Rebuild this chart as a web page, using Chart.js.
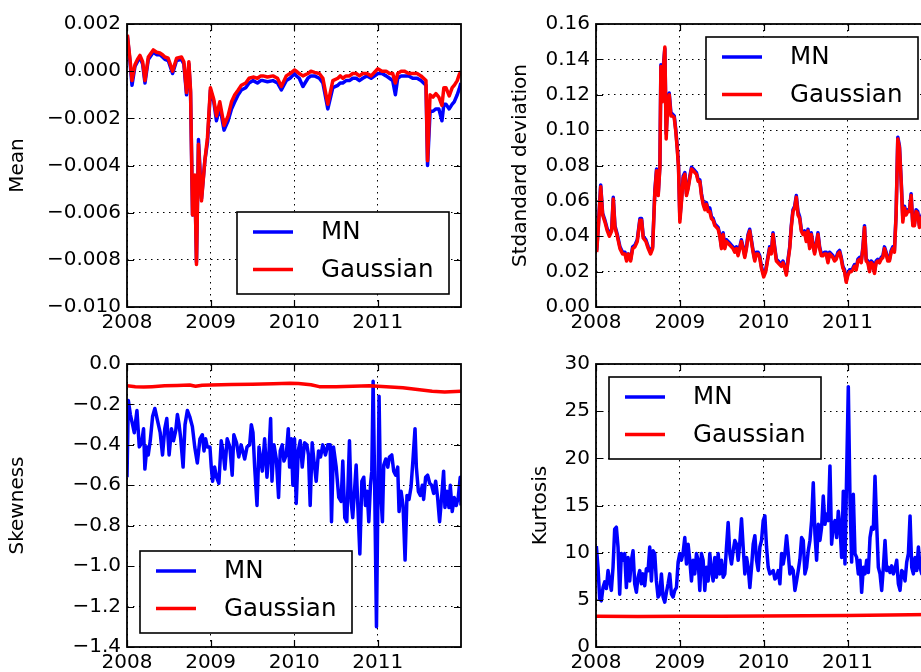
<!DOCTYPE html>
<html lang="en">
<head>
  <meta charset="UTF-8" />
  <title>MN vs Gaussian - moments</title>
  <script src="https://cdn.jsdelivr.net/npm/chart.js"></script>
  <style>
    html, body {
      margin: 0;
      padding: 0;
      width: 921px;
      height: 672px;
      overflow: hidden;
      background: #fff;
    }
    body { position: relative; }
    canvas { position: absolute; }
  </style>
</head>
<body>
  <canvas id="meanChart" width="470" height="337" style="left:0;top:0"></canvas>
  <canvas id="stdChart" width="470" height="337" style="left:470px;top:0"></canvas>
  <canvas id="skewChart" width="470" height="340" style="left:0;top:337px"></canvas>
  <canvas id="kurtChart" width="470" height="340" style="left:470px;top:337px"></canvas>

  <script>
    // ---- data (decimal years) ----
    const yearTicks = [2008, 2009, 2010, 2011];

    const meanTimes = [2008.004, 2008.036, 2008.060, 2008.095, 2008.125, 2008.155, 2008.187, 2008.215, 2008.255, 2008.314,
      2008.354, 2008.394, 2008.425, 2008.453, 2008.493, 2008.545, 2008.593, 2008.652, 2008.680, 2008.712,
      2008.740, 2008.760, 2008.784, 2008.811, 2008.831, 2008.855, 2008.891, 2008.931, 2008.963, 2008.998,
      2009.038, 2009.070, 2009.110, 2009.161, 2009.209, 2009.250, 2009.289, 2009.330, 2009.368, 2009.420,
      2009.460, 2009.508, 2009.560, 2009.600, 2009.627, 2009.680, 2009.746, 2009.800, 2009.846, 2009.905,
      2009.950, 2010.005, 2010.025, 2010.060, 2010.104, 2010.164, 2010.200, 2010.243, 2010.300, 2010.343,
      2010.402, 2010.462, 2010.522, 2010.550, 2010.581, 2010.620, 2010.661, 2010.700, 2010.741, 2010.780,
      2010.820, 2010.870, 2010.920, 2011.000, 2011.050, 2011.099, 2011.140, 2011.178, 2011.210, 2011.238,
      2011.280, 2011.317, 2011.370, 2011.417, 2011.470, 2011.516, 2011.576, 2011.595, 2011.625, 2011.660,
      2011.695, 2011.730, 2011.767, 2011.790, 2011.815, 2011.854, 2011.890, 2011.914, 2011.950, 2011.974, 2011.994];
    const meanMN = [0.0015, 0.0004, -0.0006, 0.0002, 0.0004, 0.0006, 0.0003, -0.0005, 0.0005, 0.0008,
      0.0007, 0.0007, 0.0006, 0.0005, 0.00045, -0.0001, 0.00045, 0.0005, 0.0003, -0.001,
      0.0003, -0.0009, -0.0061, -0.0045, -0.0081, -0.0029, -0.0054, -0.0038, -0.003, -0.0008,
      -0.0013, -0.0021, -0.0015, -0.0025, -0.0021, -0.0016, -0.0013, -0.001, -0.0008, -0.0007,
      -0.0005, -0.0004, -0.0005, -0.0004, -0.0004, -0.00045, -0.0004, -0.0005, -0.0008, -0.0004,
      -0.0003, -0.0001, -0.0002, -0.0003, -0.00065, -0.0003, -0.0002, -0.0002, -0.0003, -0.0005,
      -0.0016, -0.0007, -0.0006, -0.0005, -0.0005, -0.0004, -0.0004, -0.0003, -0.0003, -0.0004,
      -0.0003, -0.0002, -0.0003, -0.0001, -0.0001, -0.0002, -0.0003, -0.0004, -0.001, -0.0003,
      -0.0002, -0.0002, -0.0002, -0.0003, -0.0003, -0.0004, -0.0006, -0.0040, -0.0017, -0.0017,
      -0.0016, -0.0016, -0.0021, -0.0014, -0.0014, -0.0016, -0.0014, -0.0013, -0.001, -0.00075, -0.0005];
    const meanGauss = [0.00155, 0.0005, -0.0004, 0.00027, 0.0005, 0.00067, 0.0004, -0.0004, 0.0006, 0.0009,
      0.0008, 0.00077, 0.0007, 0.0006, 0.00055, 0.0, 0.00055, 0.0006, 0.0004, -0.0009,
      0.0004, -0.0008, -0.0061, -0.0044, -0.0082, -0.0031, -0.0055, -0.0038, -0.0028, -0.0007,
      -0.0012, -0.0019, -0.0013, -0.0023, -0.0019, -0.0013, -0.001, -0.0008, -0.0006, -0.0005,
      -0.0003, -0.00025, -0.0003, -0.0002, -0.0002, -0.00025, -0.0002, -0.0003, -0.00065, -0.0002,
      -0.0001, 0.00005, 0.0, -0.0001, -0.0002, -0.0001, 0.0, -0.00005, -0.0001, -0.0003,
      -0.0014, -0.0004, -0.0003, -0.0002, -0.0003, -0.0002, -0.0002, -0.0001, -0.0001, -0.0002,
      -0.0001, -0.0001, -0.0002, 0.0001, 0.0, 0.0, -0.0001, -0.0001, -0.0005, -0.0001,
      0.0, 0.0, -0.0001, -0.0001, -0.0001, -0.0002, -0.0004, -0.0038, -0.0010, -0.0011,
      -0.00095, -0.0011, -0.00145, -0.0007, -0.0007, -0.00105, -0.0007, -0.0006, -0.0004, -0.00014, 0.0];
    const meanTicks = [-0.010, -0.008, -0.006, -0.004, -0.002, 0.000, 0.002];

    const stdTimes = [2008.008, 2008.028, 2008.056, 2008.079, 2008.107, 2008.135, 2008.159, 2008.187, 2008.206, 2008.226,
      2008.254, 2008.286, 2008.317, 2008.345, 2008.365, 2008.385, 2008.413, 2008.437, 2008.464, 2008.492,
      2008.524, 2008.544, 2008.563, 2008.595, 2008.623, 2008.651, 2008.675, 2008.702, 2008.722, 2008.742,
      2008.762, 2008.774, 2008.790, 2008.806, 2008.821, 2008.837, 2008.853, 2008.873, 2008.893, 2008.913,
      2008.933, 2008.952, 2008.968, 2008.984, 2009.000, 2009.020, 2009.040, 2009.060, 2009.079, 2009.099,
      2009.119, 2009.139, 2009.159, 2009.179, 2009.198, 2009.218, 2009.238, 2009.258, 2009.278, 2009.298,
      2009.317, 2009.337, 2009.357, 2009.377, 2009.397, 2009.417, 2009.437, 2009.456, 2009.476, 2009.496,
      2009.516, 2009.536, 2009.556, 2009.575, 2009.595, 2009.615, 2009.635, 2009.655, 2009.675, 2009.694,
      2009.714, 2009.734, 2009.754, 2009.774, 2009.794, 2009.813, 2009.833, 2009.853, 2009.873, 2009.893,
      2009.913, 2009.933, 2009.952, 2009.972, 2010.000, 2010.024, 2010.052, 2010.071, 2010.091, 2010.111,
      2010.131, 2010.151, 2010.171, 2010.190, 2010.210, 2010.230, 2010.250, 2010.270, 2010.290, 2010.310,
      2010.329, 2010.349, 2010.369, 2010.389, 2010.409, 2010.429, 2010.448, 2010.468, 2010.488, 2010.508,
      2010.528, 2010.548, 2010.567, 2010.587, 2010.607, 2010.627, 2010.647, 2010.667, 2010.687, 2010.706,
      2010.726, 2010.746, 2010.766, 2010.786, 2010.806, 2010.825, 2010.845, 2010.865, 2010.885, 2010.905,
      2010.925, 2010.944, 2010.964, 2010.984, 2011.004, 2011.024, 2011.044, 2011.063, 2011.083, 2011.103,
      2011.123, 2011.143, 2011.163, 2011.183, 2011.202, 2011.222, 2011.242, 2011.262, 2011.282, 2011.301,
      2011.321, 2011.341, 2011.361, 2011.381, 2011.401, 2011.421, 2011.440, 2011.460, 2011.480, 2011.500,
      2011.520, 2011.540, 2011.559, 2011.579, 2011.599, 2011.619, 2011.639, 2011.659, 2011.679, 2011.698,
      2011.718, 2011.738, 2011.758, 2011.778, 2011.798, 2011.817, 2011.837, 2011.857, 2011.880, 2011.920,
      2011.960, 2011.990];
    const stdMN = [0.032, 0.046, 0.069, 0.053, 0.049, 0.044, 0.041, 0.044, 0.062, 0.046,
      0.041, 0.034, 0.031, 0.031, 0.027, 0.030, 0.027, 0.034, 0.035, 0.038,
      0.050, 0.050, 0.040, 0.038, 0.034, 0.031, 0.034, 0.066, 0.078, 0.064,
      0.080, 0.137, 0.118, 0.138, 0.146, 0.098, 0.114, 0.121, 0.110, 0.109,
      0.108, 0.100, 0.091, 0.080, 0.050, 0.061, 0.074, 0.076, 0.064, 0.068,
      0.074, 0.079, 0.078, 0.077, 0.076, 0.072, 0.072, 0.064, 0.059, 0.056,
      0.059, 0.055, 0.056, 0.051, 0.050, 0.047, 0.046, 0.045, 0.041, 0.034,
      0.042, 0.034, 0.038, 0.037, 0.036, 0.035, 0.034, 0.032, 0.034, 0.030,
      0.034, 0.038, 0.034, 0.029, 0.034, 0.041, 0.044, 0.038, 0.032, 0.027,
      0.031, 0.031, 0.029, 0.023, 0.018, 0.021, 0.029, 0.034, 0.031, 0.042,
      0.034, 0.027, 0.026, 0.025, 0.024, 0.026, 0.023, 0.019, 0.027, 0.034,
      0.046, 0.055, 0.057, 0.063, 0.054, 0.051, 0.044, 0.042, 0.043, 0.038,
      0.044, 0.034, 0.042, 0.036, 0.031, 0.036, 0.042, 0.034, 0.030, 0.030,
      0.031, 0.031, 0.026, 0.031, 0.030, 0.029, 0.027, 0.028, 0.031, 0.032,
      0.028, 0.023, 0.021, 0.015, 0.019, 0.021, 0.021, 0.022, 0.024, 0.022,
      0.027, 0.028, 0.026, 0.034, 0.046, 0.027, 0.026, 0.021, 0.026, 0.025,
      0.020, 0.026, 0.027, 0.026, 0.028, 0.029, 0.034, 0.031, 0.027, 0.027,
      0.032, 0.034, 0.032, 0.053, 0.096, 0.091, 0.072, 0.050, 0.057, 0.053,
      0.055, 0.055, 0.064, 0.047, 0.047, 0.055, 0.054, 0.046, 0.051, 0.056,
      0.049, 0.053];
    const stdGauss = [0.031, 0.045, 0.068, 0.052, 0.048, 0.043, 0.040, 0.043, 0.061, 0.045,
      0.040, 0.033, 0.030, 0.030, 0.026, 0.030, 0.026, 0.033, 0.034, 0.037,
      0.049, 0.049, 0.039, 0.037, 0.033, 0.030, 0.033, 0.065, 0.077, 0.063,
      0.079, 0.136, 0.116, 0.136, 0.147, 0.095, 0.112, 0.120, 0.108, 0.108,
      0.107, 0.099, 0.090, 0.079, 0.048, 0.060, 0.073, 0.075, 0.063, 0.067,
      0.073, 0.078, 0.077, 0.076, 0.075, 0.071, 0.071, 0.063, 0.058, 0.055,
      0.058, 0.054, 0.054, 0.050, 0.049, 0.046, 0.045, 0.044, 0.040, 0.033,
      0.041, 0.033, 0.037, 0.036, 0.035, 0.034, 0.033, 0.031, 0.033, 0.029,
      0.033, 0.037, 0.033, 0.028, 0.033, 0.040, 0.043, 0.037, 0.031, 0.026,
      0.030, 0.030, 0.028, 0.022, 0.017, 0.020, 0.028, 0.033, 0.030, 0.041,
      0.033, 0.026, 0.025, 0.024, 0.023, 0.025, 0.022, 0.018, 0.026, 0.033,
      0.045, 0.054, 0.056, 0.062, 0.052, 0.050, 0.043, 0.041, 0.042, 0.037,
      0.043, 0.033, 0.041, 0.035, 0.030, 0.035, 0.041, 0.033, 0.029, 0.029,
      0.030, 0.030, 0.025, 0.030, 0.029, 0.028, 0.026, 0.027, 0.030, 0.031,
      0.027, 0.022, 0.020, 0.014, 0.018, 0.020, 0.020, 0.021, 0.023, 0.021,
      0.026, 0.027, 0.025, 0.033, 0.045, 0.026, 0.025, 0.020, 0.025, 0.024,
      0.019, 0.025, 0.026, 0.025, 0.027, 0.028, 0.033, 0.030, 0.026, 0.026,
      0.031, 0.033, 0.031, 0.052, 0.095, 0.090, 0.071, 0.048, 0.056, 0.052,
      0.054, 0.054, 0.063, 0.046, 0.046, 0.054, 0.053, 0.045, 0.050, 0.055,
      0.048, 0.052];
    const stdTicks = [0.00, 0.02, 0.04, 0.06, 0.08, 0.10, 0.12, 0.14, 0.16];

    const skewTimes = [2008.000, 2008.016, 2008.040, 2008.067, 2008.087, 2008.119, 2008.147, 2008.175, 2008.198, 2008.214,
      2008.238, 2008.254, 2008.278, 2008.306, 2008.333, 2008.365, 2008.397, 2008.425, 2008.452, 2008.476,
      2008.504, 2008.532, 2008.556, 2008.583, 2008.603, 2008.623, 2008.643, 2008.671, 2008.694, 2008.722,
      2008.750, 2008.782, 2008.810, 2008.841, 2008.873, 2008.901, 2008.921, 2008.940, 2008.960, 2008.992,
      2009.008, 2009.024, 2009.048, 2009.071, 2009.099, 2009.127, 2009.151, 2009.171, 2009.198, 2009.230,
      2009.258, 2009.278, 2009.310, 2009.337, 2009.365, 2009.408, 2009.436, 2009.467, 2009.487, 2009.507,
      2009.527, 2009.555, 2009.579, 2009.599, 2009.618, 2009.646, 2009.674, 2009.698, 2009.718, 2009.734,
      2009.758, 2009.786, 2009.813, 2009.833, 2009.857, 2009.877, 2009.905, 2009.929, 2009.945, 2009.965,
      2009.984, 2010.004, 2010.024, 2010.048, 2010.072, 2010.096, 2010.124, 2010.151, 2010.171, 2010.191,
      2010.215, 2010.239, 2010.263, 2010.291, 2010.315, 2010.342, 2010.374, 2010.402, 2010.430, 2010.446,
      2010.470, 2010.502, 2010.533, 2010.561, 2010.581, 2010.605, 2010.629, 2010.661, 2010.681, 2010.700,
      2010.741, 2010.761, 2010.785, 2010.809, 2010.832, 2010.852, 2010.872, 2010.892, 2010.912, 2010.928,
      2010.944, 2010.960, 2010.984, 2011.000, 2011.015, 2011.031, 2011.055, 2011.071, 2011.095, 2011.119,
      2011.139, 2011.167, 2011.190, 2011.214, 2011.238, 2011.254, 2011.278, 2011.302, 2011.326, 2011.349,
      2011.373, 2011.397, 2011.421, 2011.445, 2011.461, 2011.485, 2011.509, 2011.532, 2011.548, 2011.572,
      2011.596, 2011.620, 2011.644, 2011.668, 2011.692, 2011.715, 2011.739, 2011.763, 2011.787, 2011.803,
      2011.827, 2011.851, 2011.867, 2011.890, 2011.914, 2011.938, 2011.962, 2011.986, 2011.995];
    const skewMN = [-0.56, -0.18, -0.25, -0.30, -0.34, -0.23, -0.41, -0.39, -0.32, -0.52,
      -0.41, -0.45, -0.38, -0.26, -0.22, -0.28, -0.34, -0.45, -0.32, -0.27,
      -0.45, -0.32, -0.38, -0.33, -0.25, -0.30, -0.37, -0.51, -0.30, -0.23,
      -0.26, -0.31, -0.41, -0.49, -0.37, -0.35, -0.43, -0.37, -0.41, -0.41,
      -0.51, -0.58, -0.51, -0.56, -0.59, -0.38, -0.44, -0.52, -0.37, -0.41,
      -0.55, -0.35, -0.39, -0.46, -0.40, -0.47, -0.41, -0.40, -0.30, -0.34,
      -0.51, -0.70, -0.41, -0.47, -0.53, -0.37, -0.56, -0.44, -0.27, -0.58,
      -0.40, -0.47, -0.66, -0.43, -0.40, -0.48, -0.45, -0.32, -0.51, -0.37,
      -0.60, -0.37, -0.69, -0.43, -0.38, -0.51, -0.39, -0.40, -0.45, -0.70,
      -0.39, -0.49, -0.58, -0.43, -0.46, -0.40, -0.45, -0.40, -0.40, -0.78,
      -0.41, -0.51, -0.66, -0.68, -0.48, -0.76, -0.78, -0.38, -0.68, -0.76,
      -0.50, -0.70, -0.94, -0.58, -0.56, -0.70, -0.63, -0.78, -0.60, -0.53,
      -0.085, -0.53, -1.30, -0.70, -0.16, -0.61, -0.78, -0.50, -0.47, -0.51,
      -0.46, -0.45, -0.53, -0.55, -0.51, -0.73, -0.63, -0.70, -0.97, -0.65,
      -0.67, -0.61, -0.47, -0.32, -0.51, -0.63, -0.65, -0.60, -0.67, -0.56,
      -0.55, -0.59, -0.60, -0.64, -0.58, -0.66, -0.78, -0.66, -0.53, -0.71,
      -0.63, -0.71, -0.60, -0.73, -0.66, -0.70, -0.66, -0.56, -0.70];
    const skewGaussTimes = [2008.0, 2008.1, 2008.2, 2008.3, 2008.45, 2008.6, 2008.75, 2008.82, 2008.9, 2009.0,
      2009.25, 2009.5, 2009.75, 2009.95, 2010.05, 2010.2, 2010.3, 2010.5, 2010.7, 2010.9,
      2011.1, 2011.3, 2011.45, 2011.55, 2011.65, 2011.8, 2011.99];
    const skewGauss = [-0.108, -0.112, -0.114, -0.112, -0.108, -0.106, -0.104, -0.110, -0.105, -0.104,
      -0.102, -0.100, -0.098, -0.095, -0.096, -0.103, -0.112, -0.112, -0.110, -0.108,
      -0.112, -0.118, -0.125, -0.130, -0.135, -0.138, -0.135];
    const skewTicks = [-1.4, -1.2, -1.0, -0.8, -0.6, -0.4, -0.2, 0.0];

    // weekly kurtosis estimates
    const kurtMN = [10.7, 8.45, 5.1, 4.9, 6.3, 6.9, 6.2, 8.1, 7.0, 6.0,
      8.45, 12.5, 12.7, 10.6, 5.6, 9.9, 9.2, 9.9, 6.3, 9.5,
      7.0, 9.2, 10.2, 6.7, 5.8, 7.4, 8.1, 6.7, 7.75, 6.5,
      8.3, 8.1, 10.6, 7.0, 10.2, 9.9, 7.0, 5.3, 5.6, 7.75,
      5.3, 4.75, 5.8, 6.7, 7.75, 5.6, 5.3, 6.0, 6.3, 9.0,
      9.9, 9.2, 10.0, 11.6, 8.8, 10.9, 9.2, 7.0, 9.2, 7.75,
      9.9, 9.2, 6.0, 9.9, 9.2, 6.0, 8.45, 7.0, 9.9, 8.1,
      7.0, 9.5, 7.4, 9.9, 7.75, 9.2, 7.4, 7.75, 10.6, 13.2,
      9.9, 8.8, 10.2, 11.3, 10.9, 9.2, 11.1, 13.6, 10.6, 7.75,
      9.5, 8.45, 6.3, 8.45, 10.9, 11.8, 9.2, 8.1, 10.6, 11.3,
      13.4, 13.9, 10.6, 8.45, 7.75, 7.9, 8.1, 7.2, 7.4, 8.1,
      6.7, 9.9, 8.8, 9.9, 11.8, 9.9, 7.75, 8.45, 8.1, 6.0,
      7.0, 8.1, 9.3, 11.6, 11.3, 7.75, 8.45, 10.2, 11.3, 13.4,
      17.4, 12.0, 9.2, 13.0, 11.3, 12.7, 16.0, 13.0, 14.1, 13.4,
      19.2, 10.9, 13.0, 13.4, 11.6, 14.4, 12.7, 9.5, 16.5, 8.8,
      18.3, 27.6, 15.8, 9.0, 16.2, 9.9, 9.5, 7.75, 9.2, 5.8,
      8.45, 7.75, 9.2, 7.9, 11.6, 12.7, 12.5, 18.1, 13.0, 8.45,
      7.75, 6.0, 8.45, 11.3, 8.1, 8.45, 7.9, 8.6, 7.75, 8.3,
      9.2, 6.7, 6.0, 8.1, 7.9, 7.0, 9.0, 9.9, 13.9, 8.45,
      7.75, 9.5, 8.1, 10.6, 8.45, 7.75, 9.5, 8.2, 10.3, 8.8, 9.0];
    const kurtStart = 2008.004;
    const kurtStep = 0.0199; // one sample per week
    const kurtTimes = kurtMN.map((_, i) => kurtStart + i * kurtStep);
    const kurtGaussTimes = [2008.0, 2008.5, 2009.0, 2009.5, 2010.0, 2010.5, 2011.0, 2011.5, 2011.99];
    const kurtGauss = [3.25, 3.24, 3.25, 3.27, 3.28, 3.31, 3.35, 3.40, 3.45];
    const kurtTicks = [0, 5, 10, 15, 20, 25, 30];

    // ---- helpers ----
    const FONT = 'DejaVu Sans';
    const pairs = (xs, ys) => ys.map((y, i) => ({ x: xs[i], y }));
    const minus = s => s.replace('-', '\u2212');

    // box round the plot area plus inward tick marks on all four sides
    const framePlugin = {
      id: 'frame',
      afterDatasetsDraw(chart) {
        const { ctx, chartArea: a, scales } = chart;
        ctx.save();
        ctx.strokeStyle = '#000';
        ctx.lineWidth = 1.2;
        ctx.beginPath();
        scales.x.ticks.forEach(t => {
          const px = Math.round(scales.x.getPixelForValue(t.value)) + 0.5;
          ctx.moveTo(px, a.bottom); ctx.lineTo(px, a.bottom - 7);
          ctx.moveTo(px, a.top); ctx.lineTo(px, a.top + 7);
        });
        scales.y.ticks.forEach(t => {
          const py = Math.round(scales.y.getPixelForValue(t.value)) + 0.5;
          ctx.moveTo(a.left, py); ctx.lineTo(a.left + 7, py);
          ctx.moveTo(a.right, py); ctx.lineTo(a.right - 7, py);
        });
        ctx.stroke();
        ctx.lineWidth = 1.8;
        ctx.strokeRect(a.left, a.top, a.right - a.left, a.bottom - a.top);
        ctx.restore();
      }
    };

    // matplotlib style legend box, placed by hand
    const boxLegend = {
      id: 'boxLegend',
      afterDraw(chart, args, opts) {
        const ctx = chart.ctx;
        const { x, y } = opts;
        ctx.save();
        ctx.fillStyle = '#fff';
        ctx.fillRect(x, y, 212, 82);
        ctx.strokeStyle = '#000';
        ctx.lineWidth = 1.6;
        ctx.strokeRect(x, y, 212, 82);
        ctx.font = '24.5px "' + FONT + '"';
        ctx.textBaseline = 'middle';
        chart.data.datasets.forEach((ds, i) => {
          const ly = y + 20 + i * 37.5;
          ctx.strokeStyle = ds.borderColor;
          ctx.lineWidth = 3.5;
          ctx.beginPath();
          ctx.moveTo(x + 16, ly);
          ctx.lineTo(x + 56, ly);
          ctx.stroke();
          ctx.fillStyle = '#000';
          ctx.fillText(ds.label, x + 84, ly + 1);
        });
        ctx.restore();
      }
    };

    function makePanel(id, p) {
      const gridDash = [1.5, 4.5];
      new Chart(document.getElementById(id), {
        type: 'line',
        data: {
          datasets: [
            { label: 'MN', data: p.mn, borderColor: '#0000ff', order: 1 },
            { label: 'Gaussian', data: p.gauss, borderColor: '#ff0000', order: 0 }
          ]
        },
        options: {
          responsive: false,
          animation: false,
          devicePixelRatio: 1,
          layout: { padding: { top: p.top, right: 9, bottom: 0, left: 0 } },
          elements: {
            line: { borderWidth: 3.5, tension: 0, borderJoinStyle: 'round' },
            point: { radius: 0 }
          },
          plugins: {
            legend: { display: false },
            tooltip: { enabled: false },
            boxLegend: p.legend
          },
          scales: {
            x: {
              type: 'linear',
              min: 2008,
              max: 2011.995,
              afterBuildTicks: s => { s.ticks = yearTicks.map(v => ({ value: v })); },
              afterFit: s => { s.height = 30; },
              grid: { color: '#000', lineWidth: 1, drawTicks: false },
              border: { display: false, dash: gridDash },
              ticks: {
                color: '#000', padding: 4,
                font: { family: FONT, size: 20 },
                callback: v => String(v)
              }
            },
            y: {
              min: p.ticks[0],
              max: p.ticks[p.ticks.length - 1],
              afterBuildTicks: s => { s.ticks = p.ticks.map(v => ({ value: v })); },
              afterFit: s => { s.width = p.axisWidth; },
              grid: { color: '#000', lineWidth: 1, drawTicks: false },
              border: { display: false, dash: gridDash },
              ticks: {
                color: '#000', padding: 6,
                font: { family: FONT, size: 20 },
                callback: v => minus(v.toFixed(p.decimals))
              },
              title: {
                display: true, text: p.title, color: '#000',
                font: { family: FONT, size: 20 },
                padding: { top: p.titlePad, bottom: 0 }
              }
            }
          }
        },
        plugins: [framePlugin, boxLegend]
      });
    }

    // ---- panels ----
    makePanel('meanChart', {
      mn: pairs(meanTimes, meanMN), gauss: pairs(meanTimes, meanGauss),
      ticks: meanTicks, decimals: 3, title: 'Mean', titlePad: 6,
      top: 24, axisWidth: 127, legend: { x: 237, y: 212 }
    });
    makePanel('stdChart', {
      mn: pairs(stdTimes, stdMN), gauss: pairs(stdTimes, stdGauss),
      ticks: stdTicks, decimals: 2, title: 'Stdandard deviation', titlePad: 39,
      top: 24, axisWidth: 126, legend: { x: 236, y: 37 }
    });
    makePanel('skewChart', {
      mn: pairs(skewTimes, skewMN), gauss: pairs(skewGaussTimes, skewGauss),
      ticks: skewTicks, decimals: 1, title: 'Skewness', titlePad: 6,
      top: 27, axisWidth: 127, legend: { x: 140, y: 214 }
    });
    makePanel('kurtChart', {
      mn: pairs(kurtTimes, kurtMN), gauss: pairs(kurtGaussTimes, kurtGauss),
      ticks: kurtTicks, decimals: 0, title: 'Kurtosis', titlePad: 59,
      top: 27, axisWidth: 126, legend: { x: 139, y: 40 }
    });
  </script>
</body>
</html>
